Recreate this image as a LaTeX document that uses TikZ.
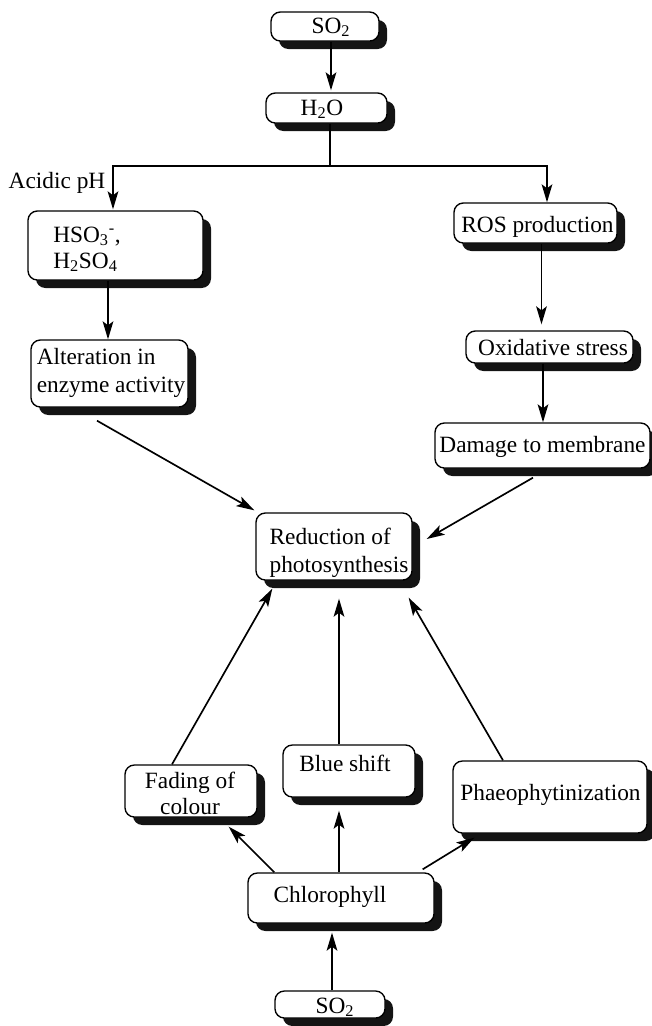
\documentclass[tikz,border=0pt]{standalone}
\usepackage{fontspec}
\setmainfont{Liberation Serif}
\usetikzlibrary{arrows.meta,shadows}

\begin{document}
\begin{tikzpicture}[
  x=0.75pt, y=-0.75pt,
  bx/.style 2 args={draw=black, line width=1pt, fill=white, rounded corners=7pt,
    minimum width=#1*0.75pt, minimum height=#2*0.75pt, inner sep=0pt,
    drop shadow={shadow xshift=6pt, shadow yshift=-6pt, opacity=1, fill=black!92}},
  txt/.style={inner sep=0pt, font=\fontsize{17.5}{21}\selectfont},
  arr/.style={line width=1.25pt, -{Stealth[length=13.5pt,width=8pt,inset=3pt]}},
  ln/.style={line width=1.25pt}
]
\useasboundingbox (0,0) rectangle (652,1026);

% boxes
\node[bx={108}{29}]  (so2t) at (325,26.5)   {};
\node[bx={121}{30}]  (h2o)  at (326.5,108)  {};
\node[bx={175}{69}]  (hso)  at (115.5,245.5){};
\node[bx={157}{67}]  (alt)  at (109.5,373.5){};
\node[bx={163}{40}]  (ros)  at (535.5,223)  {};
\node[bx={167}{32}]  (oxi)  at (549.5,347)  {};
\node[bx={215}{45}]  (dam)  at (542.5,445.5){};
\node[bx={156}{67}]  (red)  at (334,546.5)  {};
\node[bx={132}{52}]  (fad)  at (191,791)    {};
\node[bx={132}{52}]  (blu)  at (349,771)    {};
\node[bx={194}{72}]  (pha)  at (550,797)    {};
\node[bx={186}{50}]  (chl)  at (341,898)    {};
\node[bx={110}{27}]  (so2b) at (330,1004.5) {};

% labels (multi-line ones are placed by the baseline of their last line)
\node[txt, anchor=base] (so2t-t) at (331,33)    {SO\textsubscript{2}};
\node[txt, anchor=base] (h2o-t)  at (322,115)   {H\textsubscript{2}O};
\node[txt, anchor=base west, align=left] (hso-t) at (53,268)
  {HSO\textsubscript{3}\textsuperscript{-},\\[-1.5pt]H\textsubscript{2}SO\textsubscript{4}};
\node[txt, anchor=base, align=left] (alt-t) at (111,392)
  {Alteration in\\enzyme activity};
\node[txt, anchor=base] (ros-t)  at (537.5,232) {ROS production};
\node[txt, anchor=base] (oxi-t)  at (553,355)   {Oxidative stress};
\node[txt, anchor=base] (dam-t)  at (542.5,452) {Damage to membrane};
\node[txt, anchor=base, align=left] (red-t) at (339,572)
  {Reduction of\\photosynthesis};
\node[txt, anchor=base, align=center] (fad-t) at (190,814)
  {Fading of\\[-1.5pt]colour};
\node[txt, anchor=base] (blu-t)  at (345,771)   {Blue shift};
\node[txt, anchor=base] (pha-t)  at (550.5,800) {Phaeophytinization};
\node[txt, anchor=base] (chl-t)  at (330,902)   {Chlorophyll};
\node[txt, anchor=base] (so2b-t) at (335,1013)  {SO\textsubscript{2}};
\node[txt, anchor=base] (acid)   at (57,188)    {Acidic pH};

% connectors
\draw[arr] ([shift={(6,0)}]so2t.south) -- ([shift={(4.5,-2)}]h2o.north);
\coordinate (split) at (330,166);
\draw[ln] ([shift={(3.5,0)}]h2o.south) -- (split);
\draw[arr] (split) -| ([shift={(-2.5,-1)}]hso.north);
\draw[arr] (split) -| ([shift={(11.5,0)}]ros.north);
\draw[arr] ([shift={(-7.5,0)}]hso.south) -- ([shift={(-1.5,0)}]alt.north);
\draw[arr] ([shift={(-12.5,13)}]alt.south) -- ([shift={(-1,-2)}]red.north west);
\draw[arr] ([shift={(6,0)}]ros.south) -- ([shift={(-8,-6)}]oxi.north);
\draw[arr] ([shift={(-6.5,0)}]oxi.south) -- ([shift={(0.5,0)}]dam.north);
\draw[arr] ([shift={(-9.5,9)}]dam.south) -- ([shift={(14,-7.5)}]red.east);
\draw[arr] ([shift={(-19,0)}]fad.north) -- ([shift={(17,8)}]red.south west);
\draw[arr] ([shift={(-10,0)}]blu.north) -- ([shift={(5,18)}]red.south);
\draw[arr] ([shift={(-47,0)}]pha.north) -- ([shift={(-4,17)}]red.south east);
\draw[arr] ([shift={(27,0)}]chl.north west) -- ([shift={(-29,9)}]fad.south east);
\draw[arr] ([shift={(-2,0)}]chl.north) -- ([shift={(-10,13)}]blu.south);
\draw[arr] ([shift={(-12,-3)}]chl.north east) -- ([shift={(22,4)}]pha.south west);
\draw[arr] ([shift={(2,0)}]so2b.north) -- ([shift={(-9,9)}]chl.south);
\end{tikzpicture}
\end{document}
